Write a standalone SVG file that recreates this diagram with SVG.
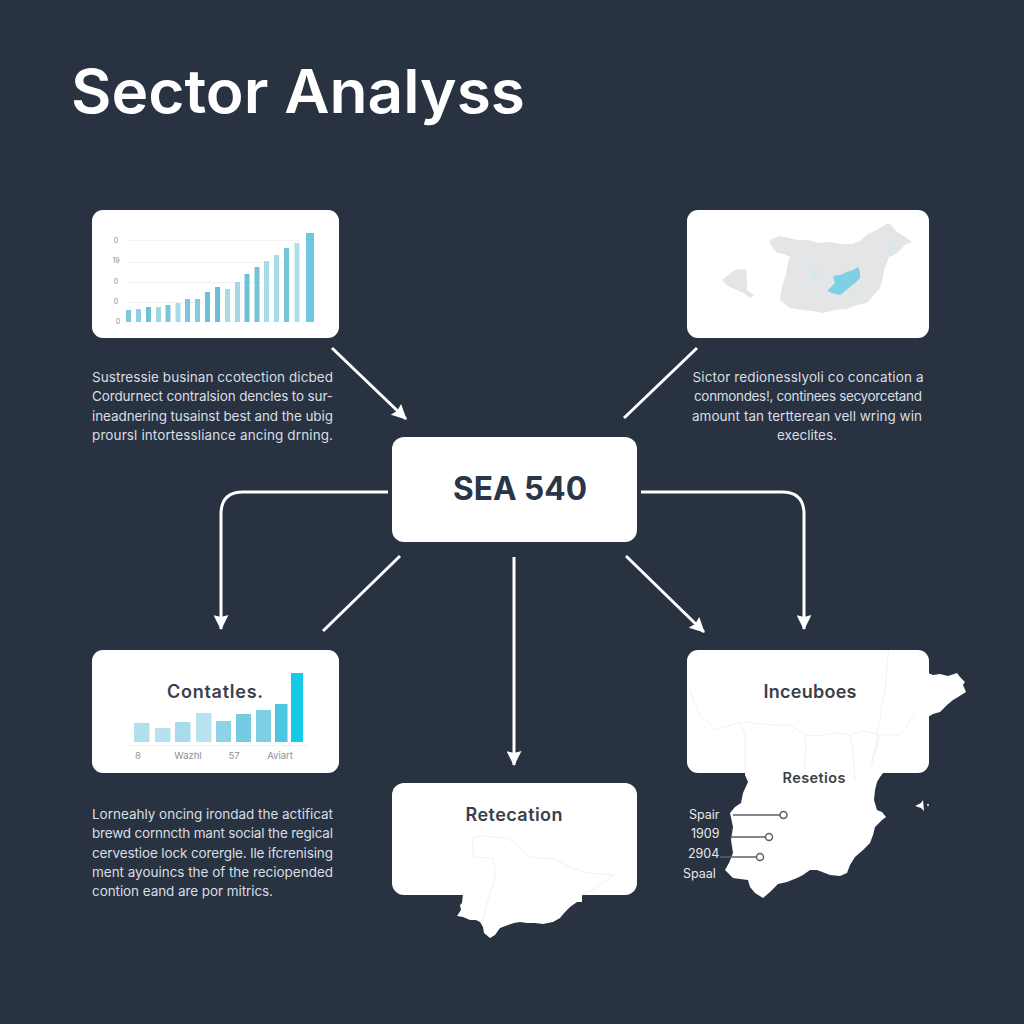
<svg xmlns="http://www.w3.org/2000/svg" width="1024" height="1024" viewBox="0 0 1024 1024">
<style>
.card{fill:#fff}
.body{font-family:"Inter","Liberation Sans",sans-serif;font-size:13.5px;fill:#d9dee3}
.ttl{font-family:"Inter","Liberation Sans",sans-serif;font-weight:600;fill:#3a4048;text-anchor:middle}
.ax{font-family:"Inter","Liberation Sans",sans-serif;fill:#8b9298;text-anchor:middle}
.lab{font-family:"Inter","Liberation Sans",sans-serif;font-size:12.5px;fill:#e6e9ec}
.con{fill:none;stroke:#fff;stroke-width:3}
.border{fill:none;stroke:#f0f1f3;stroke-width:1}
.call{stroke:#5a6068;stroke-width:1.5;fill:none}
.dot{fill:#fff;stroke:#5a6068;stroke-width:1.5}
.grid{stroke:#f0f1f3;stroke-width:1}
</style>
<defs>
<marker id="arrow" markerUnits="userSpaceOnUse" markerWidth="15" markerHeight="15" refX="14" refY="7.500" orient="auto">
<path d="M0 0L15 7.500L0 15L2 7.500Z" fill="#fff"/>
</marker>
</defs>
<rect width="1024" height="1024" fill="#283241"/>
<text id="title" x="71" y="113" font-family="Inter,'Liberation Sans',sans-serif" font-weight="600" font-size="60" fill="#fff" textLength="454" lengthAdjust="spacingAndGlyphs">Sector Analyss</text>

<g id="connectors" class="con">
<path class="con" d="M332 348L406 419" marker-end="url(#arrow)"/>
<path class="con" d="M697 348L624 418"/>
<path class="con" d="M388 492H243Q221 492 221 514V629" marker-end="url(#arrow)"/>
<path class="con" d="M641 492H782Q804 492 804 514V629" marker-end="url(#arrow)"/>
<path class="con" d="M400 556L323 631"/>
<path class="con" d="M626 556L704 632" marker-end="url(#arrow)"/>
<path class="con" d="M514 557V765" marker-end="url(#arrow)"/>
</g>

<g id="node-trend">
<rect class="card" x="92" y="210" width="247" height="128" rx="11"/>
<path class="grid" d="M126 240.500H300M126 262.500H286M126 282.500H280M126 302.500H210"/>
<g class="ax" font-size="7"><text x="116" y="243">0</text><text x="116" y="263">19</text><text x="116" y="284">0</text><text x="116" y="304">0</text><text x="118" y="324">0</text></g>
<g>
<rect x="126" y="310" width="5" height="12" fill="#7fc8dc"/>
<rect x="136" y="309" width="5" height="13" fill="#8fd0e0"/>
<rect x="146" y="307" width="5" height="15" fill="#6fc0d6"/>
<rect x="156" y="307" width="5" height="15" fill="#a0d6e4"/>
<rect x="165.500" y="305" width="5" height="17" fill="#7cc5da"/>
<rect x="175.500" y="303" width="5" height="19" fill="#a8dbe8"/>
<rect x="185" y="299" width="5" height="23" fill="#7cc7dc"/>
<rect x="195" y="299" width="5" height="23" fill="#85cbde"/>
<rect x="205" y="292" width="5" height="30" fill="#6dbfd6"/>
<rect x="215" y="287" width="5" height="35" fill="#6cbdd6"/>
<rect x="225" y="289" width="5" height="33" fill="#a8dae7"/>
<rect x="235" y="282" width="5" height="40" fill="#a2d7e6"/>
<rect x="244.500" y="274" width="5" height="48" fill="#6cc0d8"/>
<rect x="254.500" y="267" width="5" height="55" fill="#74c5da"/>
<rect x="264" y="261" width="5" height="61" fill="#a8dce9"/>
<rect x="274" y="255" width="5" height="67" fill="#a8dce9"/>
<rect x="284" y="248" width="5" height="74" fill="#74c5da"/>
<rect x="294.500" y="243" width="5" height="79" fill="#b0dfea"/>
<rect x="306" y="233" width="8" height="89" fill="#70c6dc"/>
</g>
</g>
<g id="text-trend" class="body">
<text x="92" y="382" textLength="241">Sustressie businan ccotection dicbed</text>
<text x="92" y="401" textLength="241">Cordurnect contralsion dencles to sur-</text>
<text x="92" y="421" textLength="241">ineadnering tusainst best and the ubig</text>
<text x="92" y="440" textLength="241">proursl intortessliance ancing drning.</text>
</g>

<g id="node-map">
<rect class="card" x="687" y="210" width="242" height="128" rx="11"/>
<path d="M769 242L772 239L780 236L790 238L797 240L808 240L818 243L830 242L840 244L852 244L860 241L868 234L877 230L883 226L888 223L892 226L897 232L905 237L912 242L905 245L897 253L889 257L887 262L884 270L883 277L881 285L880 288L873 296L867 303L857 305L847 309L835 310L823 313L812 311L803 310L795 309L790 308L785 304L780 300L781 292L783 283L786 275L787 267L789 260L790 257L784 254L777 253L773 248Z" fill="#e4e5e6"/>
<path d="M722 280L727 276L735 270L746 269L747 280L747 290L754 295L750 298L745 294L737 290L728 286Z" fill="#e4e5e6"/>
<path d="M810 268L820 272L815 278L812 275Z" fill="#cfe9ee"/>
<path d="M888 245L895 243L893 256L889 256Z" fill="#d9e9ec"/>
<path d="M827 291L835 283L833 276L840 275L847 272L853 270L858 267L860 272L860 278L855 283L850 287L845 291L840 295L832 293Z" fill="#7fd0e4"/>
</g>
<g id="text-map" class="body" text-anchor="middle">
<text x="808" y="382" textLength="231">Sictor redionesslyoli co concation a</text>
<text x="808" y="401" textLength="228">conmondes!, continees secyorcetand</text>
<text x="807" y="421" textLength="230">amount tan tertterean vell wring win</text>
<text x="807" y="440" textLength="60">execlites.</text>
</g>

<g id="node-center">
<rect class="card" x="392" y="437" width="245" height="105" rx="12"/>
<text x="520" y="500" font-family="Inter,'Liberation Sans',sans-serif" font-weight="700" font-size="32" fill="#2a3547" text-anchor="middle" textLength="134" lengthAdjust="spacingAndGlyphs">SEA 540</text>
</g>

<g id="node-contatles">
<rect class="card" x="92" y="650" width="247" height="123" rx="11"/>
<text class="ttl" x="215" y="698" font-size="18" textLength="96">Contatles.</text>
<rect x="134" y="723" width="15.500" height="19" fill="#b1dfec"/>
<rect x="155" y="728" width="15.500" height="14" fill="#b6e1ed"/>
<rect x="175" y="722" width="15.500" height="20" fill="#a9dcea"/>
<rect x="196" y="713" width="15.500" height="29" fill="#b9e2ee"/>
<rect x="216" y="721" width="15" height="21" fill="#8dd3e6"/>
<rect x="236" y="714" width="15" height="28" fill="#75cbe2"/>
<rect x="256" y="710" width="15" height="32" fill="#7fcfe4"/>
<rect x="275" y="704" width="12.500" height="38" fill="#4cc6e0"/>
<rect x="291" y="673" width="12" height="69" fill="#16cbe6"/>
<path class="grid" d="M127 745.500H308"/>
<g class="ax" font-size="9.500"><text x="138" y="759">8</text><text x="188" y="759">Wazhl</text><text x="234" y="759">57</text><text x="280" y="759">Aviart</text></g>
</g>
<g id="text-contatles" class="body">
<text x="92" y="819" textLength="241">Lorneahly oncing irondad the actificat</text>
<text x="92" y="838" textLength="241">brewd cornncth mant social the regical</text>
<text x="92" y="858" textLength="241">cervestioe lock corergle. lle ifcrenising</text>
<text x="92" y="877" textLength="241">ment ayouincs the of the reciopended</text>
<text x="92" y="896" textLength="181">contion eand are por mitrics.</text>
</g>

<g id="node-retecation">
<rect class="card" x="392" y="783" width="245" height="112" rx="12"/>
<path d="M463 894L462 903L460 905L461 910L457 916L463 917L470 920L476 920L480 922L483 927L484 933L490 938L495 935L500 928L508 925L514 923L520 922L527 923L535 923L543 924L553 922L560 918L565 912L570 907L577 902L582 902L582 894Z" fill="#fff"/>
<path class="border" d="M472 838L474 837L483 836L506 838L516 844L530 857L542 858L553 859L568 866L583 872L600 874L615 875L604 882L593 890L582 895M472 838L473 848L473 857L493 858L495 870L495 880L490 893L487 903L482 922"/>
<text class="ttl" x="514" y="821" font-size="18" textLength="97">Retecation</text>
</g>

<g id="node-incubees">
<rect class="card" x="687" y="650" width="242" height="123" rx="11"/>
<path d="M928 673L933 675L940 674L948 676L957 673L960 677L965 682L963 685L966 692L958 697L953 700L947 705L940 712L933 714L928 717V740L900 765L883 773L880 777L877 782L875 790L874 800L877 810L882 812L886 817L882 820L875 827L873 835L870 843L863 850L855 857L850 865L847 873L840 876L830 875L817 870L810 870L803 875L797 878L787 882L778 884L770 892L763 898L755 893L750 887L748 880L740 879L733 878L725 870L729 863L733 853L731 840L733 827L730 813L735 807L741 803L743 793L748 782L745 775L745 770H900Z" fill="#fff"/>
<path class="border" d="M889 650L887 665L886 680L885 690L882 705L880 720L877 733L876 745L872 760M690 690L694 702L700 715L708 722L716 730L728 726L740 722L745 735L745 770M745 722L760 724L775 725L790 725L805 735L820 736L835 733L850 735L865 731L880 735L893 735L900 735L908 725L915 712M805 735L806 750L804 770M850 735L853 750L855 780M880 735L875 752L870 770"/>
<text class="ttl" x="810" y="698" font-size="18" textLength="93">Inceuboes</text>
<text class="ttl" x="814" y="783" font-size="14.500" textLength="63">Resetios</text>
<path class="call" d="M733 815H780M730 837H766M720 857H757"/>
<circle class="dot" cx="783.500" cy="815" r="3.500"/>
<circle class="dot" cx="769" cy="837" r="3.500"/>
<circle class="dot" cx="760" cy="857" r="3.500"/>
<path d="M915 806L921 803L923 800L924 811L921 808ZM927 804L929 804L928 807Z" fill="#fff"/>
<text class="lab" x="689" y="819">Spair</text>
<text class="lab" x="691" y="838">1909</text>
<text class="lab" x="688" y="858">2904</text>
<text class="lab" x="683" y="878">Spaal</text>
</g>
</svg>
